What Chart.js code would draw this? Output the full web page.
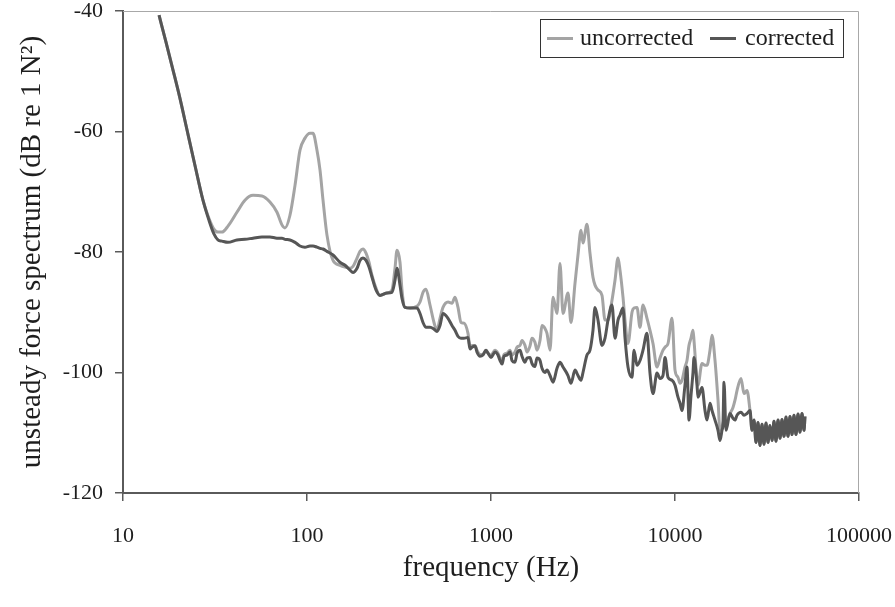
<!DOCTYPE html>
<html>
<head>
<meta charset="utf-8">
<script src="https://cdn.jsdelivr.net/npm/chart.js"></script>
<style>
html, body { margin: 0; padding: 0; background: #fff; }
#wrap { width: 895px; height: 607px; }
</style>
</head>
<body>
<div id="wrap"><canvas id="canvas1" width="895" height="607"></canvas></div>
<script>
"use strict";

//frequency (Hz)
let freqs = [
    15.7, 17.1, 18.7, 20.4, 22.3, 24.6, 27.2, 29.3, 31.2, 32.8,
    34.5, 37.2, 41.6, 46.0, 50.9, 56.9, 62.9, 68.7, 73.1, 75.9,
    80.8, 86.1, 91.6, 97.5, 103.8, 107.8, 113.3, 117.7, 122.2, 128.4,
    138.5, 151.1, 160.9, 171.3, 177.8, 187.0, 194.1, 201.5, 209.3, 217.3,
    225.6, 237.1, 249.3, 272.1, 289.7, 300.8, 308.4, 320.2, 328.3, 340.9,
    362.9, 396.1, 411.3, 427.0, 443.3, 466.1, 490.0, 508.8, 528.2, 548.4,
    583.9, 613.7, 637.3, 661.7, 687.0, 713.2, 749.9, 769.0, 788.3, 818.5,
    839.3, 871.3, 904.7, 939.3, 963.2, 1000, 1051, 1091, 1119, 1148,
    1177, 1222, 1269, 1300, 1350, 1385, 1438, 1474, 1530, 1569,
    1629, 1670, 1734, 1778, 1846, 1893, 1966, 2015, 2093, 2173,
    2284, 2371, 2462, 2621, 2721,
    2861, 2970, 3084, 3162, 3324, 3451, 3583, 3675, 3815, 4011,
    4165, 4324, 4546, 4720, 4900, 5025, 5217, 5349, 5553, 5839,
    5987, 6216, 6454, 6700, 7043, 7313, 7593, 7984, 8289, 8606,
    8824, 9162, 9632, 10000, 10382, 10647, 10914, 11330, 11620, 11915,
    12218, 12526, 12685, 13171, 13335, 14018, 14554, 14923, 15495, 15889,
    16497, 17130, 17561, 18005, 18234, 18464, 18932, 19902, 20663, 21188,
    21727, 22840, 23714, 24622, 25564, 26212, 26872, 27553, 28256, 28973,
    29701, 30459, 31231, 32018, 32830, 33665, 34510, 35392, 36294, 37220,
    38150, 39121, 40114, 41125, 42170, 43243, 44330, 45460, 46610, 47789,
    49000, 50246, 50880
];

//uncorrected (dB re 1 N^2)
let uncorrected = [
    -40.7, -45.1, -49.8, -54.5, -59.8, -65.6, -71.4, -74.4, -76.2, -76.7,
    -76.7, -75.7, -73.4, -71.4, -70.6, -70.7, -71.7, -73.4, -75.5, -76.0,
    -73.9, -68.9, -63.1, -61.1, -60.3, -60.3, -63.1, -66.4, -71.4, -77.2,
    -81.4, -82.2, -82.5, -82.7, -82.4, -81.0, -79.9, -79.5, -80.2, -81.7,
    -83.9, -86.0, -87.2, -86.8, -86.3, -82.7, -79.7, -81.7, -86.3, -89.2,
    -89.3, -89.0, -88.3, -86.7, -86.2, -88.8, -91.7, -93.0, -91.0, -89.2,
    -88.3, -88.5, -87.5, -89.2, -91.7, -91.8, -93.5, -95.8, -95.5, -95.5,
    -96.3, -97.0, -97.0, -96.3, -96.8, -97.1, -96.3, -96.8, -97.6, -98.1,
    -97.0, -96.8, -96.3, -97.1, -96.6, -95.8, -95.5, -94.7, -95.5, -96.6,
    -95.6, -94.3, -95.0, -96.3, -94.7, -92.2, -92.7, -93.5, -96.3, -87.5,
    -90.2, -81.9, -90.2, -86.8, -91.7,
    -85.2, -80.5, -76.4, -78.5, -75.4, -80.2, -84.2, -85.5, -86.3, -87.2,
    -91.3, -91.3, -88.0, -84.7, -81.0, -83.0, -87.5, -91.3, -95.2, -90.0,
    -89.3, -89.2, -92.5, -88.8, -91.0, -93.0, -95.2, -99.1, -97.6, -96.3,
    -95.8, -95.2, -91.0, -99.6, -100.8, -101.8, -101.3, -99.1, -98.0, -95.5,
    -94.3, -93.0, -94.7, -101.3, -102.1, -98.5, -98.8, -98.8, -96.3, -93.8,
    -98.0, -104.6, -109.6, -109.1, -108.4, -107.9, -108.4, -106.8, -105.8, -104.6,
    -103.0, -101.0, -103.5, -103.0, -106.3, -109.6, -107.9, -111.6, -108.3, -112.1,
    -108.6, -111.9, -108.4, -111.6, -108.8, -111.3, -108.1, -111.4, -107.9, -110.9,
    -107.8, -110.6, -107.4, -110.6, -107.3, -110.3, -107.1, -110.3, -106.9, -109.9,
    -106.8, -109.6, -107.3
];

//corrected (dB re 1 N^2)
let corrected = [
    -40.7, -45.1, -49.8, -54.5, -59.8, -65.6, -71.4, -74.7, -77.0, -78.0,
    -78.2, -78.4, -78.0, -77.9, -77.7, -77.5, -77.5, -77.7, -77.7, -77.9,
    -78.0, -78.4, -79.0, -79.2, -79.0, -79.0, -79.2, -79.4, -79.5, -79.9,
    -80.5, -81.7, -82.2, -83.0, -83.4, -82.7, -81.4, -81.0, -81.4, -82.5,
    -84.2, -86.3, -87.2, -86.8, -86.7, -84.7, -82.7, -85.5, -87.7, -89.2,
    -89.3, -89.3, -90.2, -91.7, -92.5, -92.5, -92.8, -93.2, -92.2, -90.2,
    -91.0, -92.2, -93.0, -94.0, -94.3, -94.3, -94.2, -96.1, -95.8, -95.6,
    -96.6, -97.3, -97.1, -96.3, -96.8, -97.5, -96.6, -97.1, -98.0, -98.6,
    -97.3, -97.1, -96.6, -98.0, -98.3, -96.8, -96.3, -97.3, -98.3, -97.6,
    -97.5, -98.5, -99.0, -97.6, -98.0, -99.3, -100.0, -99.6, -100.5, -101.6,
    -99.3, -98.3, -99.1, -100.5, -101.8,
    -99.6, -100.5, -101.3, -100.0, -97.1, -96.3, -93.0, -89.2, -91.3, -95.5,
    -94.3, -91.3, -88.8, -94.3, -91.3, -90.5, -89.3, -94.2, -99.1, -100.8,
    -96.3, -98.8, -98.0, -96.3, -93.5, -100.1, -103.5, -100.1, -101.0, -100.5,
    -97.5, -100.8, -101.3, -102.1, -104.1, -105.1, -106.3, -102.1, -99.1, -107.9,
    -103.8, -100.0, -97.5, -102.1, -104.1, -102.5, -106.3, -107.9, -105.1, -106.3,
    -107.9, -109.6, -111.3, -109.6, -108.4, -101.6, -109.6, -106.8, -107.6, -107.9,
    -107.1, -106.6, -107.1, -106.8, -106.3, -109.6, -107.9, -111.6, -108.3, -112.1,
    -108.6, -111.9, -108.4, -111.6, -108.8, -111.3, -108.1, -111.4, -107.9, -110.9,
    -107.8, -110.6, -107.4, -110.6, -107.3, -110.3, -107.1, -110.3, -106.9, -109.9,
    -106.8, -109.6, -107.3
];

//ticks
let xTicks = [10, 100, 1000, 10000, 100000];
let yTicks = [-120, -100, -80, -60, -40];

let serif = "'Liberation Serif', 'Times New Roman', serif";
let ink = "#1e1e1e";
let axisGray = "#5a5a5a";

//top/right frame + boxed legend
let framePlugin = {
    id: "framePlugin",
    afterDraw(chart)
    {
        let a = chart.chartArea;
        let ctx = chart.ctx;
        ctx.save();
        ctx.strokeStyle = "#a8a8a8";
        ctx.lineWidth = 1;
        ctx.beginPath();
        ctx.moveTo(a.left, a.top + 0.5);
        ctx.lineTo(a.right - 0.5, a.top + 0.5);
        ctx.lineTo(a.right - 0.5, a.bottom);
        ctx.stroke();

        //legend
        let bx = a.right - 319;
        let by = a.top + 8;
        ctx.fillStyle = "#fff";
        ctx.fillRect(bx, by, 303, 38);
        ctx.strokeStyle = "#333";
        ctx.strokeRect(bx + 0.5, by + 0.5, 303, 38);
        let items = chart.data.datasets.slice().reverse();
        let offs = [[7, 40], [170, 205]];
        ctx.font = "24px " + serif;
        ctx.textBaseline = "middle";
        ctx.textAlign = "left";
        items.forEach((ds, i) => {
            ctx.fillStyle = ds.borderColor;
            ctx.fillRect(bx + offs[i][0], by + 18, 26, 3);
            ctx.fillStyle = ink;
            ctx.fillText(ds.label, bx + offs[i][1], by + 20);
        });
        ctx.restore();
    }
};

//opts
let opts = {
    type: "line",
    data: {
        datasets: [
            {
                label: "corrected",
                data: freqs.map((f, i) => ({ x: f, y: corrected[i] })),
                borderColor: "#565656",
                borderWidth: 3,
                pointRadius: 0,
                cubicInterpolationMode: "monotone",
                borderJoinStyle: "round",
            },
            {
                label: "uncorrected",
                data: freqs.map((f, i) => ({ x: f, y: uncorrected[i] })),
                borderColor: "#a4a4a4",
                borderWidth: 3,
                pointRadius: 0,
                cubicInterpolationMode: "monotone",
                borderJoinStyle: "round",
            },
        ],
    },
    options: {
        responsive: false,
        animation: false,
        layout: { padding: { top: 11, right: 36, left: 0, bottom: 0 } },
        plugins: {
            legend: { display: false },
            tooltip: { enabled: false },
        },
        scales: {
            x: {
                type: "logarithmic",
                min: 10,
                max: 100000,
                afterBuildTicks: (s) => { s.ticks = xTicks.map(v => ({ value: v })); },
                afterFit: (s) => { s.height = 114; s.paddingLeft = 0; s.paddingRight = 0; },
                ticks: {
                    autoSkip: false,
                    maxRotation: 0,
                    padding: 22,
                    color: ink,
                    font: { family: serif, size: 22 },
                    callback: (v) => String(v),
                },
                grid: { drawOnChartArea: false, tickLength: 8, color: axisGray, lineWidth: 1.5 },
                border: { color: axisGray, width: 2 },
                title: {
                    display: true,
                    text: "frequency (Hz)",
                    color: ink,
                    font: { family: serif, size: 29 },
                    padding: { top: 0, bottom: 21 },
                },
            },
            y: {
                min: -120,
                max: -40,
                afterBuildTicks: (s) => { s.ticks = yTicks.map(v => ({ value: v })); },
                afterFit: (s) => { s.width = 123; s.paddingTop = 0; s.paddingBottom = 0; },
                ticks: {
                    padding: 12,
                    color: ink,
                    font: { family: serif, size: 22 },
                },
                grid: { drawOnChartArea: false, tickLength: 8, color: axisGray, lineWidth: 1.5 },
                border: { color: axisGray, width: 2 },
                title: {
                    display: true,
                    text: "unsteady force spectrum (dB re 1 N\u00B2)",
                    color: ink,
                    font: { family: serif, size: 29 },
                    padding: { top: 15, bottom: 0 },
                },
            },
        },
    },
    plugins: [framePlugin],
};

let canvas1 = document.querySelector("#canvas1");
let c1 = new Chart(canvas1, opts);
</script>
</body>
</html>
